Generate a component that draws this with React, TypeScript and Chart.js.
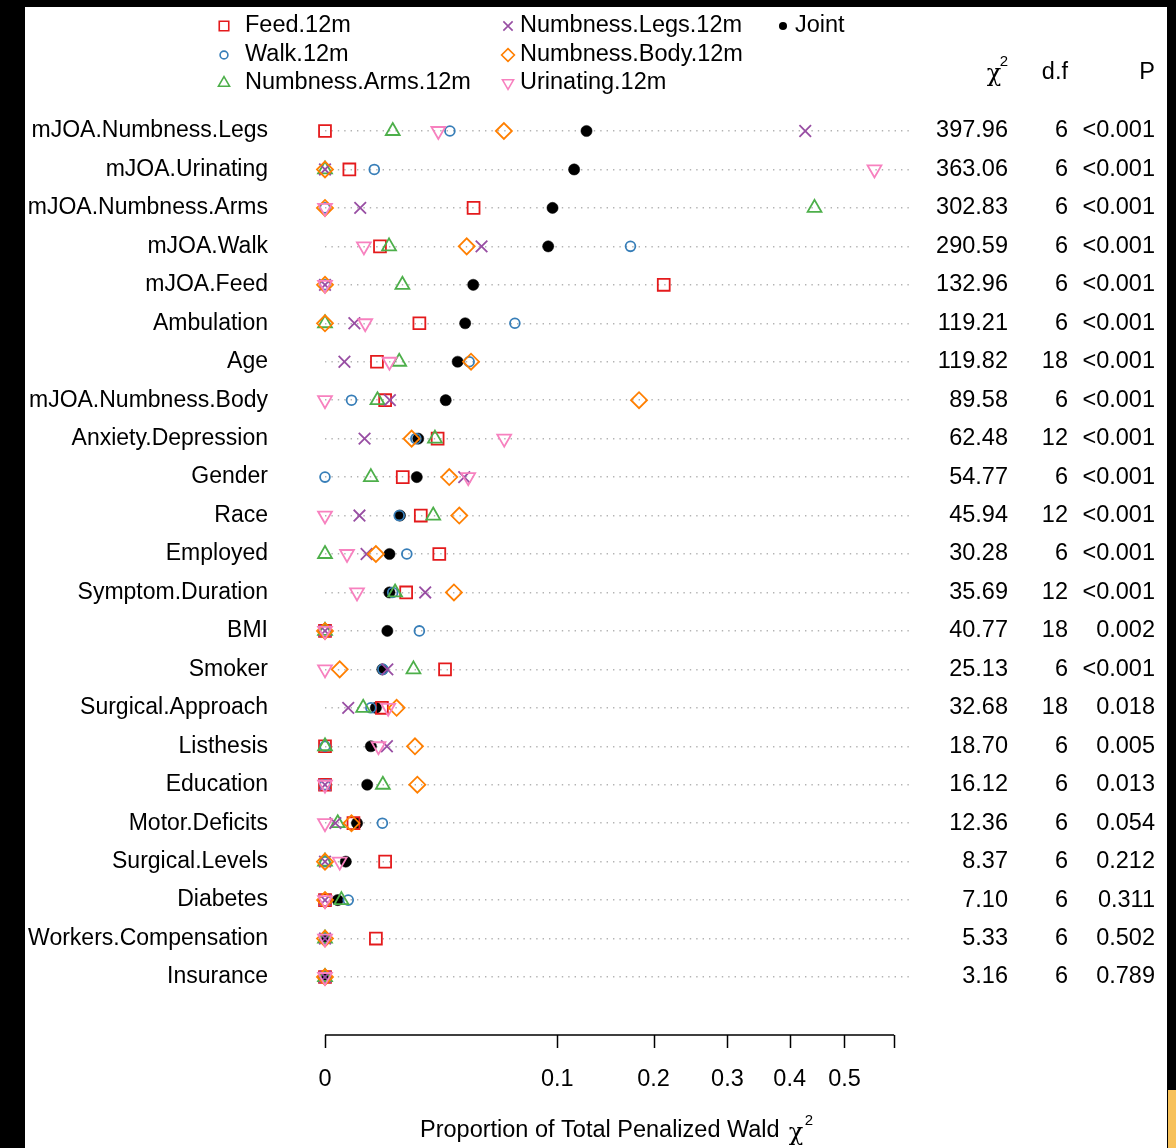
import React, { useEffect, useRef } from "react";
import { Chart, registerables } from "chart.js";

Chart.register(...registerables);

const FONT = '"Liberation Sans", Arial, Helvetica, sans-serif';
const W = 1176;
const H = 1148;

const predictors = [
  "mJOA.Numbness.Legs",
  "mJOA.Urinating",
  "mJOA.Numbness.Arms",
  "mJOA.Walk",
  "mJOA.Feed",
  "Ambulation",
  "Age",
  "mJOA.Numbness.Body",
  "Anxiety.Depression",
  "Gender",
  "Race",
  "Employed",
  "Symptom.Duration",
  "BMI",
  "Smoker",
  "Surgical.Approach",
  "Listhesis",
  "Education",
  "Motor.Deficits",
  "Surgical.Levels",
  "Diabetes",
  "Workers.Compensation",
  "Insurance",
];

// proportions of total penalized Wald chi-square, one value per predictor
const feed12m = [0, 0.0011, 0.0409, 0.0056, 0.2126, 0.0165, 0.005, 0.0067, 0.0235, 0.0112, 0.017, 0.0242, 0.0122, 0, 0.0267, 0.006, 0, 0, 0.0015, 0.0067, 0, 0.0048, 0];
const walk12m = [0.0289, 0.0045, 0, 0.1729, 0, 0.0668, 0.0385, 0.0013, 0.0153, 0, 0.0102, 0.0124, 0.0085, 0.0165, 0.0062, 0.0039, 0, 0, 0.0061, 0, 0.001, 0, 0];
const numbArms12m = [0.0085, 0, 0.444, 0.0076, 0.0111, 0, 0.0102, 0.0051, 0.0224, 0.0039, 0.0217, 0, 0.0091, 0, 0.0145, 0.0027, 0, 0.0062, 0.0003, 0, 0.0005, 0, 0];
const numbLegs12m = [0.4273, 0, 0.0023, 0.0454, 0, 0.0016, 0.0007, 0.0078, 0.0029, 0.0359, 0.0022, 0.0032, 0.0186, 0, 0.0072, 0.001, 0.0071, 0, 0.0002, 0, 0, 0, 0];
const numbBody12m = [0.0593, 0, 0, 0.0372, 0, 0, 0.0395, 0.1827, 0.0139, 0.0286, 0.0334, 0.0048, 0.0308, 0, 0.0004, 0.0095, 0.015, 0.0158, 0.0013, 0, 0, 0, 0];
const urinating12m = [0.0238, 0.5594, 0, 0.0028, 0, 0.003, 0.0077, 0, 0.0595, 0.038, 0, 0.0009, 0.0019, 0, 0, 0.0074, 0.0053, 0, 0, 0.0004, 0, 0, 0];
const joint = [0.1267, 0.115, 0.0959, 0.0923, 0.0407, 0.0364, 0.0326, 0.027, 0.0161, 0.0156, 0.0104, 0.0077, 0.0077, 0.0072, 0.0061, 0.0048, 0.0039, 0.0033, 0.0019, 0.0008, 0.0003, 0, 0];

const chiSquare = ["397.96", "363.06", "302.83", "290.59", "132.96", "119.21", "119.82", "89.58", "62.48", "54.77", "45.94", "30.28", "35.69", "40.77", "25.13", "32.68", "18.70", "16.12", "12.36", "8.37", "7.10", "5.33", "3.16"];
const degreesFreedom = ["6", "6", "6", "6", "6", "6", "18", "6", "12", "6", "12", "6", "12", "18", "6", "18", "6", "6", "6", "6", "6", "6", "6"];
const pValues = ["<0.001", "<0.001", "<0.001", "<0.001", "<0.001", "<0.001", "<0.001", "<0.001", "<0.001", "<0.001", "<0.001", "<0.001", "<0.001", "0.002", "<0.001", "0.018", "0.005", "0.013", "0.054", "0.212", "0.311", "0.502", "0.789"];

const xTickValues = [0, 0.1, 0.2, 0.3, 0.4, 0.5, 0.6];
const xTickLabels = ["0", "0.1", "0.2", "0.3", "0.4", "0.5", ""];
const xAxisMaxSqrt = 0.799;

type Series = {
  name: string;
  values: number[];
  color: string;
  style: string;
  rotation: number;
  radius: number;
  filled: boolean;
  order: number;
};

const series: Series[] = [
  { name: "Feed.12m", values: feed12m, color: "#E41A1C", style: "rect", rotation: 0, radius: 8.4, filled: false, order: 6 },
  { name: "Walk.12m", values: walk12m, color: "#377EB8", style: "circle", rotation: 0, radius: 4.9, filled: false, order: 5 },
  { name: "Numbness.Arms.12m", values: numbArms12m, color: "#4DAF4A", style: "triangle", rotation: 0, radius: 8, filled: false, order: 4 },
  { name: "Numbness.Legs.12m", values: numbLegs12m, color: "#984EA3", style: "crossRot", rotation: 0, radius: 8.2, filled: false, order: 3 },
  { name: "Numbness.Body.12m", values: numbBody12m, color: "#FF7F00", style: "rectRot", rotation: 0, radius: 8, filled: false, order: 2 },
  { name: "Urinating.12m", values: urinating12m, color: "#F781BF", style: "triangle", rotation: 180, radius: 8, filled: false, order: 1 },
  { name: "Joint", values: joint, color: "#000000", style: "circle", rotation: 0, radius: 5.6, filled: true, order: 10 },
];

// legend grid (column-major, like R's legend with ncol = 3)
const legendColumns = [[0, 1, 2], [3, 4, 5], [6]];

function drawMarker(ctx: CanvasRenderingContext2D, s: Series, x: number, y: number, scale: number) {
  const r = s.radius * scale;
  ctx.save();
  ctx.strokeStyle = s.color;
  ctx.fillStyle = s.color;
  ctx.lineWidth = 1.6;
  ctx.beginPath();
  if (s.style === "circle") {
    ctx.arc(x, y, r, 0, Math.PI * 2);
    if (s.filled) ctx.fill();
    else ctx.stroke();
  } else if (s.style === "rect") {
    const h = r * Math.SQRT1_2;
    ctx.rect(x - h, y - h, 2 * h, 2 * h);
    ctx.stroke();
  } else if (s.style === "rectRot") {
    ctx.moveTo(x, y - r);
    ctx.lineTo(x + r, y);
    ctx.lineTo(x, y + r);
    ctx.lineTo(x - r, y);
    ctx.closePath();
    ctx.stroke();
  } else if (s.style === "crossRot") {
    const h = r * Math.SQRT1_2;
    ctx.moveTo(x - h, y - h);
    ctx.lineTo(x + h, y + h);
    ctx.moveTo(x - h, y + h);
    ctx.lineTo(x + h, y - h);
    ctx.stroke();
  } else if (s.style === "triangle") {
    let a = (s.rotation * Math.PI) / 180;
    for (let k = 0; k < 3; k++) {
      const px = x + Math.sin(a) * r;
      const py = y - Math.cos(a) * r;
      if (k === 0) ctx.moveTo(px, py);
      else ctx.lineTo(px, py);
      a += (2 * Math.PI) / 3;
    }
    ctx.closePath();
    ctx.stroke();
  }
  ctx.restore();
}

const decorPlugin = {
  id: "decor",
  beforeDraw(chart: any) {
    const ctx = chart.ctx as CanvasRenderingContext2D;
    ctx.save();
    ctx.fillStyle = "#ffffff";
    ctx.fillRect(0, 0, W, H);
    ctx.restore();
  },
  afterDraw(chart: any) {
    const ctx = chart.ctx as CanvasRenderingContext2D;
    const xs = chart.scales.x;
    const ys = chart.scales.y;
    ctx.save();
    ctx.fillStyle = "#000";
    ctx.textBaseline = "middle";
    ctx.font = `23.5px ${FONT}`;

    // legend
    const colMarkerX = [224, 508, 783];
    const colTextX = [245, 520, 795];
    const rowY = [26, 55, 83];
    legendColumns.forEach((col, ci) => {
      col.forEach((si, ri) => {
        const s = series[si];
        drawMarker(ctx, s, colMarkerX[ci], rowY[ri], s.filled ? 0.72 : 0.8);
        ctx.fillStyle = "#000";
        ctx.textAlign = "left";
        ctx.fillText(s.name, colTextX[ci], rowY[ri]);
      });
    });

    // header of the statistics columns
    const headY = 73;
    ctx.font = `24px "DejaVu Serif", serif`;
    ctx.textAlign = "center";
    ctx.fillText("\u03C7", 994, headY + 2);
    ctx.font = `15px ${FONT}`;
    ctx.fillText("2", 1004, headY - 11);
    ctx.font = `23.5px ${FONT}`;
    ctx.textAlign = "right";
    ctx.fillText("d.f", 1068, headY);
    ctx.fillText("P", 1155, headY);

    // statistics columns
    predictors.forEach((p, i) => {
      const y = ys.getPixelForValue(i);
      ctx.textAlign = "right";
      ctx.fillText(chiSquare[i], 1008, y);
      ctx.fillText(degreesFreedom[i], 1068, y);
      ctx.fillText(pValues[i], 1155, y);
    });

    // x axis (square-root scale)
    const axisY = 1035;
    const x0 = xs.getPixelForValue(Math.sqrt(xTickValues[0]));
    const x1 = xs.getPixelForValue(Math.sqrt(xTickValues[xTickValues.length - 1]));
    ctx.strokeStyle = "#000";
    ctx.lineWidth = 1.5;
    ctx.beginPath();
    ctx.moveTo(x0, axisY);
    ctx.lineTo(x1, axisY);
    xTickValues.forEach((v) => {
      const px = Math.round(xs.getPixelForValue(Math.sqrt(v))) + 0.5;
      ctx.moveTo(px, axisY);
      ctx.lineTo(px, axisY + 13);
    });
    ctx.stroke();
    ctx.textAlign = "center";
    xTickValues.forEach((v, i) => {
      ctx.fillText(xTickLabels[i], xs.getPixelForValue(Math.sqrt(v)), 1080);
    });

    // x title
    const title = "Proportion of Total Penalized Wald";
    ctx.textAlign = "left";
    const tx = 420;
    const ty = 1131;
    ctx.fillText(title, tx, ty);
    const tw = ctx.measureText(title).width;
    ctx.font = `24px "DejaVu Serif", serif`;
    ctx.fillText("\u03C7", tx + tw + 9, ty + 3);
    ctx.font = `15px ${FONT}`;
    ctx.fillText("2", tx + tw + 25, ty - 10);

    // screenshot frame
    ctx.fillStyle = "#000";
    ctx.fillRect(0, 0, W, 7);
    ctx.fillRect(0, 0, 25, H);
    ctx.fillRect(1167, 0, W - 1167, H);
    ctx.fillStyle = "#F7C15A";
    ctx.fillRect(1168, 1090, 8, 58);
    ctx.restore();
  },
};

export default function App() {
  const canvasRef = useRef<HTMLCanvasElement | null>(null);

  useEffect(() => {
    const canvas = canvasRef.current;
    if (!canvas) return;
    const datasets = series.map((s) => ({
      label: s.name,
      data: predictors.map((p, i) => ({ x: Math.sqrt(s.values[i]), y: p })),
      pointStyle: s.style,
      pointRotation: s.rotation,
      pointRadius: s.radius,
      pointBorderWidth: s.filled ? 0.5 : 1.8,
      pointBorderColor: s.color,
      pointBackgroundColor: s.filled ? s.color : "rgba(0,0,0,0)",
      showLine: false,
      clip: false as any,
      order: s.order,
    }));

    const chart = new Chart(canvas, {
      type: "scatter",
      data: { datasets } as any,
      options: {
        animation: false,
        responsive: false,
        events: [],
        layout: { padding: { left: 0, right: W - 912, top: 131, bottom: H - 977 } },
        plugins: { legend: { display: false }, tooltip: { enabled: false } },
        scales: {
          x: { type: "linear", min: 0, max: xAxisMaxSqrt, display: false },
          y: {
            type: "category",
            labels: predictors,
            offset: false,
            position: "left",
            grid: { display: true, drawTicks: false, color: "#b3b3b3", lineWidth: 1.4 },
            border: { display: false, dash: [1.4, 5] },
            ticks: { autoSkip: false, padding: 57, color: "#000", font: { family: FONT, size: 23 } },
            afterFit: (s: any) => {
              s.width = 325;
            },
          },
        },
      } as any,
      plugins: [decorPlugin],
    });
    return () => chart.destroy();
  }, []);

  return (
    <div style={{ position: "fixed", left: 0, top: 0, width: W, height: H, background: "#fff" }}>
      <canvas ref={canvasRef} width={W} height={H} style={{ display: "block", width: W, height: H }} />
    </div>
  );
}
